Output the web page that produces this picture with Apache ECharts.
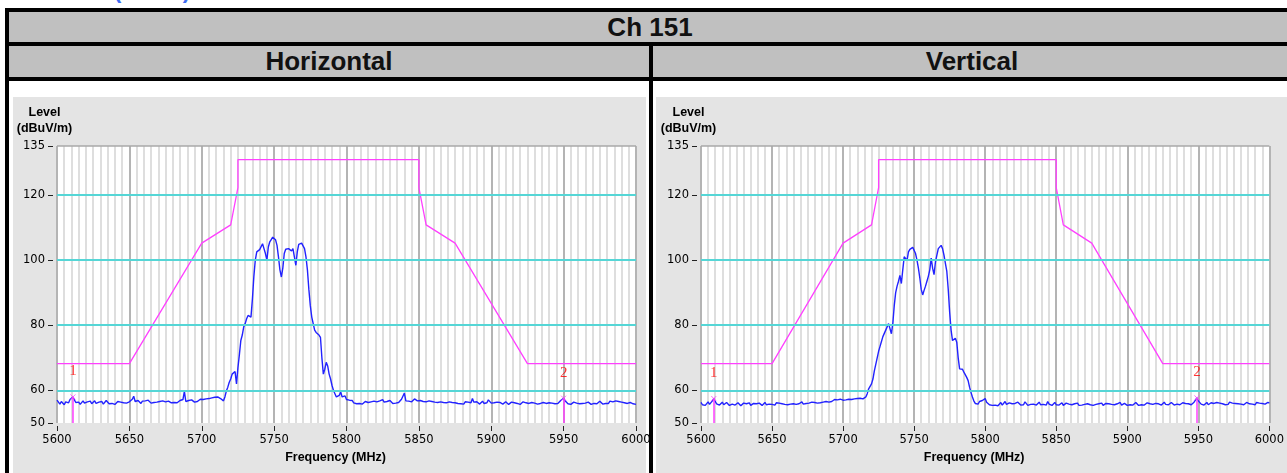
<!DOCTYPE html>
<html>
<head>
<meta charset="utf-8">
<script src="https://cdn.jsdelivr.net/npm/echarts@6/dist/echarts.min.js"></script>
<style>
    body { margin: 0; width: 1287px; height: 473px; overflow: hidden; background: #fff; position: relative; font-family: "Liberation Sans", Arial, sans-serif; }
    .blk { position: absolute; background: #000; }
    .row { position: absolute; background: #c0c0c0; text-align: center; font-weight: bold; font-size: 26px; color: #111; }
    .panel { position: absolute; background: #e4e4e4; }
    .cut { position: absolute; top: -22px; color: #3b6cf2; font-weight: bold; font-size: 22px; white-space: pre; }
    #chart { position: absolute; left: 0; top: 0; width: 1287px; height: 473px; }
</style>
</head>
<body>
<div class="cut" style="left:10px">CC EIRP</div>
<div class="cut" style="left:114px; letter-spacing:2px">(EIRP)</div>
<div class="blk" style="left:5px; top:8px; width:1300px; height:4px"></div>
<div class="blk" style="left:5px; top:8px; width:4px; height:470px"></div>
<div class="row" style="left:9px; top:12px; width:1282px; height:30px; line-height:30px">Ch 151</div>
<div class="blk" style="left:9px; top:42px; width:1300px; height:4px"></div>
<div class="row" style="left:9px; top:46px; width:640px; height:31px; line-height:31px">Horizontal</div>
<div class="row" style="left:653px; top:46px; width:638px; height:31px; line-height:31px">Vertical</div>
<div class="blk" style="left:649px; top:42px; width:4px; height:440px"></div>
<div class="blk" style="left:9px; top:77px; width:1300px; height:4px"></div>
<div class="panel" style="left:13px; top:97px; width:633px; height:380px"></div>
<div class="panel" style="left:656px; top:97px; width:640px; height:380px"></div>
<div id="chart"></div>
<script>
// 扫描起点 / 步进 (MHz)
var freqStart = 5600
var freqStep = 1

// Horizontal 极化读数 dBuV/m, 5600..6000 每 1 MHz
var levelH = [
    57.0, 56.4, 55.8, 56.6, 56.0, 55.6, 56.5, 56.9, 56.2, 57.2, 57.5, 58.0, 57.1, 56.3, 55.9, 56.4, 55.7, 56.2, 56.8, 56.1,
    55.8, 56.5, 56.0, 56.7, 55.9, 56.3, 56.8, 56.0, 55.6, 56.4, 56.1, 56.6, 55.8, 56.2, 56.9, 56.3, 55.9, 56.5, 56.0, 56.4,
    55.7, 56.3, 56.6, 56.0, 56.4, 55.8, 56.2, 56.7, 56.1, 55.9, 56.5, 56.0, 57.3, 58.2, 56.6, 56.2, 56.9, 56.4, 56.0, 56.7,
    56.3, 56.8, 56.2, 57.0, 56.5, 56.1, 56.7, 56.3, 56.9, 56.4, 56.0, 56.6, 56.2, 56.8, 56.3, 56.5, 56.1, 56.7, 56.4, 56.2,
    56.6, 56.3, 56.8, 56.2, 56.5, 56.9, 56.4, 57.2, 59.7, 56.6, 56.3, 56.9, 56.5, 57.1, 56.7, 56.4, 57.0, 56.6, 56.9, 57.3,
    56.8, 57.2, 56.9, 57.4, 57.1, 57.5, 57.2, 57.7, 57.4, 57.9, 57.6, 58.0, 57.7, 57.5, 57.3, 56.8, 58.0, 59.8, 61.0, 62.5,
    63.5, 65.0, 64.5, 65.8, 62.0, 67.0, 71.0, 75.3, 77.0, 79.5, 80.5, 82.0, 83.0, 83.3, 82.5, 88.0, 95.0, 100.0, 102.5, 103.0,
    103.2, 103.5, 105.0, 103.5, 102.0, 100.0, 104.0, 105.6, 106.3, 107.0, 107.2, 106.2, 104.5, 101.0, 97.0, 94.8, 97.5, 102.0, 103.3, 103.8,
    103.5, 103.8, 102.8, 103.5, 101.0, 98.4, 102.5, 104.8, 105.4, 105.2, 104.6, 103.5, 101.0, 97.0, 91.0, 86.0, 82.5, 80.5, 78.5, 77.8,
    77.5, 77.0, 76.3, 70.0, 65.0, 66.5, 68.6, 67.5, 65.0, 63.5, 61.5, 60.0, 59.0, 58.0, 57.4, 58.5, 59.5, 58.0, 57.5, 58.3,
    57.2, 57.6, 57.0, 56.6, 56.9, 56.2, 56.5, 55.9, 56.3, 56.0, 56.4, 55.8, 56.2, 56.6, 56.0, 56.3, 55.9, 56.5, 56.1, 56.7,
    56.2, 56.5, 56.0, 56.8, 56.3, 57.2, 56.4, 56.0, 56.6, 56.2, 56.9, 56.3, 56.0, 56.5, 56.1, 56.7, 56.3, 56.8, 57.3, 57.0,
    59.2, 56.8, 56.3, 56.7, 56.1, 56.5, 56.9, 57.4, 57.9, 56.8, 56.4, 56.9, 56.3, 56.6, 56.0, 56.5, 56.2, 56.8, 56.3, 56.6,
    56.1, 56.4, 55.9, 56.3, 55.8, 56.5, 56.0, 56.3, 55.7, 56.2, 55.9, 56.5, 56.0, 56.3, 55.8, 56.2, 56.6, 56.0, 56.4, 55.9,
    56.3, 55.8, 56.5, 56.1, 56.4, 55.9, 56.2, 57.5, 56.4, 56.0, 56.5, 56.1, 55.8, 56.3, 56.7, 56.0, 56.4, 56.2, 57.1, 56.5,
    56.1, 56.6, 56.2, 56.0, 56.4, 55.9, 56.3, 56.1, 55.8, 56.2, 56.5, 56.0, 55.7, 56.1, 56.4, 55.9, 56.2, 55.8, 56.0, 56.3,
    55.7, 56.1, 56.5, 55.9, 56.2, 56.6, 56.0, 55.8, 56.3, 55.9, 56.1, 56.5, 55.8, 56.2, 56.0, 55.7, 56.3, 56.6, 56.0, 55.9,
    56.2, 55.8, 56.1, 56.4, 55.9, 56.3, 56.0, 56.5, 56.9, 57.2, 57.6, 56.8, 56.2, 55.9, 56.3, 55.7, 56.0, 56.4, 55.8, 56.1,
    56.5, 55.9, 56.2, 56.0, 56.6, 56.1, 55.8, 56.4, 56.0, 55.7, 56.3, 56.0, 56.5, 55.9, 56.2, 56.7, 56.1, 55.8, 56.3, 56.0,
    56.4, 56.0, 56.7, 56.2, 56.5, 56.0, 56.8, 56.3, 56.6, 56.1, 56.4, 56.9, 56.2, 56.5, 56.0, 56.6, 56.3, 56.1, 55.9, 56.2,
    55.7
]

// Vertical 极化读数
var levelV = [
    56.3, 55.6, 56.2, 55.4, 56.0, 56.5, 55.7, 56.1, 56.8, 57.5, 56.6, 55.9, 56.3, 55.5, 56.0, 56.4, 55.6, 55.9, 56.3, 55.7,
    55.4, 56.0, 55.8, 56.3, 55.5, 55.9, 56.2, 55.6, 55.3, 55.8, 56.1, 55.5, 55.9, 55.6, 56.2, 55.4, 55.8, 56.0, 55.5, 55.9,
    55.6, 56.1, 55.7, 55.4, 55.9, 56.3, 55.6, 56.0, 55.8, 56.4, 55.7, 56.0, 55.5, 56.2, 55.8, 56.1, 55.6, 55.9, 56.3, 55.7,
    56.0, 55.6, 56.2, 55.8, 56.4, 55.9, 56.1, 55.7, 56.3, 55.9, 56.0, 56.5, 55.8, 56.2, 56.0, 56.6, 56.1, 55.9, 56.4, 56.0,
    56.3, 56.7, 56.1, 56.5, 56.2, 56.8, 56.4, 56.1, 56.6, 56.9, 56.4, 57.0, 56.6, 56.8, 57.2, 56.7, 57.1, 56.8, 57.3, 57.6,
    57.0, 57.4, 57.1, 57.6, 57.3, 57.5, 57.2, 57.7, 57.4, 57.8, 57.5, 57.3, 57.6, 57.2, 57.4, 57.0, 58.0, 59.0, 60.5, 61.0,
    62.0, 63.5, 66.0, 68.0, 70.0, 72.0, 73.5, 75.0, 76.5, 77.5, 78.5, 79.5, 80.5, 80.0, 77.4, 80.6, 86.0, 90.0, 92.0, 93.5,
    95.3, 92.8, 97.0, 101.0, 100.5, 99.9, 102.5, 103.3, 103.8, 103.9, 103.5, 102.0, 100.0, 97.5, 94.5, 91.0, 89.3, 90.7, 92.0, 93.5,
    95.0, 97.0, 100.6, 97.5, 95.5, 99.4, 101.5, 103.5, 104.0, 104.5, 103.5, 101.5, 99.0, 96.5, 91.0, 84.0, 78.5, 75.3, 75.5, 76.0,
    74.8, 70.0, 66.6, 67.0, 66.5, 65.6, 66.0, 64.0, 63.0, 61.0, 59.4, 58.0, 56.8, 56.0, 56.3, 55.8, 56.6, 56.0, 56.9, 57.3,
    57.5, 56.4, 56.0, 55.6, 56.2, 55.4, 55.9, 55.5, 56.1, 55.3, 55.8, 56.3, 55.5, 56.0, 56.6, 55.7, 55.4, 56.2, 55.6, 55.9,
    55.3, 56.0, 55.7, 56.4, 55.8, 55.5, 56.1, 55.6, 56.5, 55.9, 55.4, 56.0, 55.7, 56.3, 55.8, 56.2, 55.5, 55.9, 56.4, 55.6,
    56.0, 55.7, 56.2, 55.5, 56.6, 55.8, 56.1, 55.4, 55.9, 56.3, 55.6, 56.0, 55.5, 55.8, 56.2, 55.4, 55.9, 56.1, 55.5, 55.8,
    56.2, 55.6, 55.3, 55.9, 55.6, 56.1, 55.4, 55.8, 55.5, 56.0, 55.7, 55.3, 55.9, 56.2, 55.6, 55.8, 55.4, 56.0, 55.7, 55.5,
    55.9, 55.6, 56.1, 55.4, 55.8, 56.0, 55.5, 55.9, 55.3, 55.7, 56.2, 55.6, 55.4, 55.9, 55.7, 56.3, 55.5, 55.8, 56.0, 55.6,
    55.4, 55.9, 55.6, 56.1, 55.5, 55.8, 56.3, 55.7, 55.4, 55.9, 55.6, 56.0, 55.5, 55.8, 56.2, 55.6, 55.9, 56.4, 55.7, 55.5,
    56.0, 55.6, 55.9, 56.2, 55.5, 55.8, 56.4, 55.7, 56.0, 55.6, 55.9, 56.3, 55.7, 55.5, 56.1, 55.8, 56.0, 55.6, 55.9, 56.2,
    55.7, 56.0, 55.5, 55.9, 56.3, 55.6, 56.1, 56.4, 56.9, 57.7, 56.8, 56.2, 55.8, 56.1, 55.5, 55.9, 56.3, 55.6, 55.9, 56.2,
    55.6, 56.0, 55.7, 56.3, 55.8, 56.1, 55.5, 55.9, 56.2, 55.6, 56.0, 55.7, 56.4, 55.8, 56.1, 55.6, 56.0, 55.7, 55.9, 56.2,
    55.8, 56.1, 55.6, 56.0, 56.3, 55.7, 55.9, 56.2, 55.8, 56.0, 55.6, 56.3, 55.9, 56.1, 55.7, 56.0, 56.2, 55.8, 56.0, 56.3,
    56.1
]

// 限值线 (mask)
var limitFreq = [5600, 5650, 5700, 5720, 5725, 5725, 5850, 5850, 5855, 5875, 5925, 6000]
var limitLevel = [68.2, 68.2, 105.2, 110.8, 122.2, 130.8, 130.8, 122.2, 110.8, 105.2, 68.2, 68.2]

// marker
var markerNames = ['1', '2']
var markerFreqH = [5611, 5950]
var markerFreqV = [5609, 5949]

// 坐标轴
var yTicks = [50, 60, 80, 100, 120, 135]
var yCyanLines = [60, 80, 100, 120]
var xTickStep = 50

var chart = echarts.init(document.getElementById('chart'))

var toPairs = (arr) => arr.map((v, i) => [freqStart + i * freqStep, v])
var limitPairs = limitFreq.map((f, i) => [f, limitLevel[i]])
var levelAt = (arr, f) => arr[Math.round((f - freqStart) / freqStep)]

var grids = [
    {left: 57, top: 146, width: 579, height: 277},
    {left: 701, top: 146, width: 579, height: 277}
]
var traces = [levelH, levelV]
var markers = [markerFreqH, markerFreqV]

var xAxes = [], yAxes = [], series = []

grids.forEach((g, i) => {
    xAxes.push({
        type: 'value', gridIndex: i, min: 5600, max: 6000, interval: xTickStep,
        offset: 3,
        name: 'Frequency (MHz)', nameLocation: 'middle', nameGap: 25,
        nameTextStyle: {fontFamily: 'Liberation Sans', fontWeight: 'bold', fontSize: 12.5, color: '#000', padding: [0, 22, 0, 0]},
        axisLine: {show: false},
        axisTick: {show: true, length: 5, lineStyle: {color: '#222'}},
        axisLabel: {margin: 8, formatter: (v) => String(v), fontFamily: 'DejaVu Sans', fontSize: 11.5, color: '#000'},
        splitLine: {show: true, lineStyle: {color: '#b4b4b4', width: 2}},
        minorTick: {show: false, splitNumber: 10},
        minorSplitLine: {show: true, lineStyle: {color: '#dedede', width: 2}}
    })
    yAxes.push({
        type: 'value', gridIndex: i, min: 50, max: 135,
        offset: 4,
        name: 'Level\n(dBuV/m)', nameLocation: 'end', nameGap: 9,
        nameTextStyle: {fontFamily: 'Liberation Sans', fontWeight: 'bold', fontSize: 12.5, lineHeight: 16, color: '#000', align: 'center', padding: [0, 17, 0, 0]},
        axisLine: {show: false},
        axisTick: {show: true, length: 5, customValues: yTicks, lineStyle: {color: '#222'}},
        axisLabel: {margin: 8, customValues: yTicks, fontFamily: 'DejaVu Sans', fontSize: 11.5, color: '#000'},
        splitLine: {show: false}
    })

    // 青色水平参考线 + 顶边
    series.push({
        type: 'line', xAxisIndex: i, yAxisIndex: i, z: 1, silent: true,
        data: [[5600, 50]], symbol: 'none',
        markLine: {
            silent: true, symbol: 'none', label: {show: false}, animation: false,
            data: yCyanLines.map(v => ({yAxis: v, lineStyle: {color: '#55d6d6', width: 2, type: 'solid'}}))
                .concat([{yAxis: 135, lineStyle: {color: '#a8a8a8', width: 1.5, type: 'solid'}}])
        }
    })
    // 限值
    series.push({
        type: 'line', xAxisIndex: i, yAxisIndex: i, z: 3, silent: true,
        data: limitPairs, symbol: 'none',
        lineStyle: {color: '#ff40ff', width: 1.3}
    })
    // 实测
    series.push({
        type: 'line', xAxisIndex: i, yAxisIndex: i, z: 4, silent: true,
        data: toPairs(traces[i]), symbol: 'none',
        lineStyle: {color: '#2222ff', width: 1.4}
    })
    // marker
    var mk = markers[i].map((f, k) => ({value: [f, levelAt(traces[i], f)], name: markerNames[k]}))
    series.push({
        type: 'scatter', xAxisIndex: i, yAxisIndex: i, z: 5, silent: true,
        data: mk,
        symbol: 'path://M0,0L10,10M0,10L10,0', symbolSize: 5,
        itemStyle: {color: 'none', borderColor: '#ff40ff', borderWidth: 1},
        label: {show: true, position: 'top', distance: 13, formatter: (p) => p.name, color: '#ff0000', fontFamily: 'Liberation Serif', fontSize: 15},
        markLine: {
            silent: true, symbol: 'none', label: {show: false}, animation: false,
            lineStyle: {color: '#ff40ff', width: 1.5, type: 'solid'},
            data: mk.map(m => [{coord: m.value}, {coord: [m.value[0], 50]}])
        }
    })
})

chart.setOption({
    animation: false,
    grid: grids.map(g => Object.assign({show: true, backgroundColor: '#fff', borderWidth: 0}, g)),
    xAxis: xAxes,
    yAxis: yAxes,
    series: series
})
</script>
</body>
</html>
